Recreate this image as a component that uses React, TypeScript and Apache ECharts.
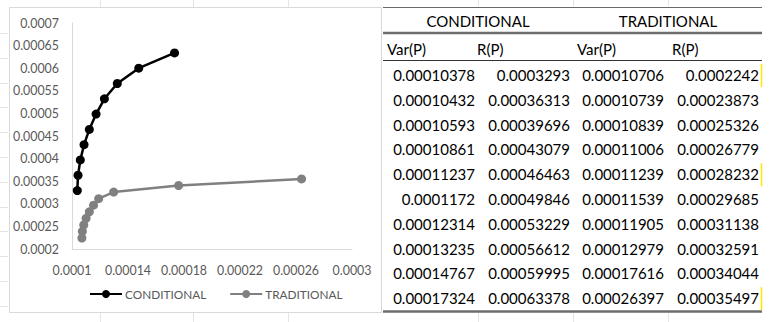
import React, { useEffect, useRef } from "react";
import * as echarts from "echarts";

const seriesNames = ["CONDITIONAL", "TRADITIONAL"];
const condVar = [0.00010378, 0.00010432, 0.00010593, 0.00010861, 0.00011237, 0.0001172, 0.00012314, 0.00013235, 0.00014767, 0.00017324];
const condR = [0.0003293, 0.00036313, 0.00039696, 0.00043079, 0.00046463, 0.00049846, 0.00053229, 0.00056612, 0.00059995, 0.00063378];
const tradVar = [0.00010706, 0.00010739, 0.00010839, 0.00011006, 0.00011239, 0.00011539, 0.00011905, 0.00012979, 0.00017616, 0.00026397];
const tradR = [0.0002242, 0.00023873, 0.00025326, 0.00026779, 0.00028232, 0.00029685, 0.00031138, 0.00032591, 0.00034044, 0.00035497];
const xTickLabels = ["0.0001", "0.00014", "0.00018", "0.00022", "0.00026", "0.0003"];
const yTickLabels = ["0.0002", "0.00025", "0.0003", "0.00035", "0.0004", "0.00045", "0.0005", "0.00055", "0.0006", "0.00065", "0.0007"];
const tableGroupHeaders = ["CONDITIONAL", "TRADITIONAL"];
const tableColHeaders = ["Var(P)", "R(P)", "Var(P)", "R(P)"];
const yellowRows = [0, 4, 9];

const FONT = "Lato, 'Liberation Sans', sans-serif";

export default function App() {
  const ref = useRef<HTMLDivElement>(null);
  useEffect(() => {
    if (!ref.current) return;
    const chart = echarts.init(ref.current, undefined, { renderer: "svg" });

    const xMin = Number(xTickLabels[0]);
    const xMax = Number(xTickLabels[xTickLabels.length - 1]);
    const xStep = (xMax - xMin) / (xTickLabels.length - 1);
    const yMin = Number(yTickLabels[0]);
    const yMax = Number(yTickLabels[yTickLabels.length - 1]);
    const yStep = (yMax - yMin) / (yTickLabels.length - 1);

    const graphics: any[] = [];
    graphics.push({
      type: "rect", z: -10,
      shape: { x: 9.5, y: 7.5, width: 372, height: 305 },
      style: { fill: "none", stroke: "#d9d9d9", lineWidth: 1 },
    });
    [100, 193, 288].forEach((x) => {
      graphics.push({ type: "line", z: -10, shape: { x1: x + 0.5, y1: 0, x2: x + 0.5, y2: 7 }, style: { stroke: "#e4e4e4", lineWidth: 1 } });
      graphics.push({ type: "line", z: -10, shape: { x1: x + 0.5, y1: 313, x2: x + 0.5, y2: 322 }, style: { stroke: "#e4e4e4", lineWidth: 1 } });
    });
    [478, 573, 668].forEach((x) => {
      graphics.push({ type: "line", z: -10, shape: { x1: x + 0.5, y1: 0, x2: x + 0.5, y2: 6 }, style: { stroke: "#e4e4e4", lineWidth: 1 } });
      graphics.push({ type: "line", z: -10, shape: { x1: x + 0.5, y1: 313, x2: x + 0.5, y2: 322 }, style: { stroke: "#e4e4e4", lineWidth: 1 } });
    });
    for (let i = 0; i < 12; i++) {
      const y = Math.round(33 + i * 24.8) + 0.5;
      graphics.push({ type: "line", z: -10, shape: { x1: 0, y1: y, x2: 8, y2: y }, style: { stroke: "#e4e4e4", lineWidth: 1 } });
    }

    const tL = 383, tR = 762;
    graphics.push({ type: "line", shape: { x1: tL, y1: 7.5, x2: tR, y2: 7.5 }, style: { stroke: "#6a6a6a", lineWidth: 1 } });
    graphics.push({ type: "line", shape: { x1: tL, y1: 33, x2: tR, y2: 33 }, style: { stroke: "#6d6d6d", lineWidth: 2.5 } });
    graphics.push({ type: "line", shape: { x1: tL, y1: 60.5, x2: tR, y2: 60.5 }, style: { stroke: "#333333", lineWidth: 1 } });
    graphics.push({ type: "line", shape: { x1: tL, y1: 311.5, x2: tR, y2: 311.5 }, style: { stroke: "#6d6d6d", lineWidth: 2.5 } });

    const groupX = [478, 668];
    tableGroupHeaders.forEach((t, i) => {
      graphics.push({ type: "text", x: groupX[i], y: 21, style: { text: t, fill: "#000", fontSize: 15, fontFamily: FONT, align: "center", verticalAlign: "middle" } });
    });
    const colLeft = [387, 477, 577, 672];
    tableColHeaders.forEach((t, i) => {
      graphics.push({ type: "text", x: colLeft[i], y: 49, style: { text: t, fill: "#000", fontSize: 15, fontFamily: FONT, align: "left", verticalAlign: "middle" } });
    });
    const colRight = [475, 570, 664, 759];
    const cols = [condVar, condR, tradVar, tradR];
    cols.forEach((arr, c) => {
      arr.forEach((v, r) => {
        graphics.push({
          type: "text", x: colRight[c], y: 75 + r * 24.8,
          style: { text: String(v), fill: "#000", fontSize: 15, fontFamily: FONT, align: "right", verticalAlign: "middle" },
        });
      });
    });
    yellowRows.forEach((r) => {
      const yc = 75 + r * 24.8;
      graphics.push({ type: "line", shape: { x1: 761.5, y1: yc - 11, x2: 761.5, y2: yc + 12 }, style: { stroke: "#ffe600", lineWidth: 1.5 } });
    });

    chart.setOption({
      animation: false,
      backgroundColor: "#ffffff",
      grid: { left: 72, right: 419, top: 23, bottom: 73, containLabel: false, outerBoundsMode: "none" },
      xAxis: {
        type: "value",
        min: xMin, max: xMax, interval: xStep / 2,
        axisLine: { show: true, lineStyle: { color: "#d9d9d9", width: 1 } },
        axisTick: { show: false },
        splitLine: { show: false },
        axisLabel: {
          color: "#595959", fontSize: 12.4, fontFamily: FONT, margin: 15,
          formatter: (v: number) => {
            const k = Math.round((v - xMin) / (xStep / 2));
            return k % 2 === 0 ? xTickLabels[k / 2] ?? "" : "";
          },
        },
      },
      yAxis: {
        type: "value",
        min: yMin, max: yMax, interval: yStep,
        axisLine: { show: true, lineStyle: { color: "#d9d9d9", width: 1 } },
        axisTick: { show: false },
        splitLine: { show: false },
        axisLabel: {
          color: "#595959", fontSize: 12.4, fontFamily: FONT, margin: 13,
          formatter: (v: number) => yTickLabels[Math.round((v - yMin) / yStep)] ?? "",
        },
      },
      legend: {
        left: 89, top: 288, padding: 0,
        itemWidth: 32, itemHeight: 10, itemGap: 23,
        textStyle: { color: "#595959", fontSize: 11.8, fontFamily: FONT, padding: [0, 0, 0, -2] },
        data: seriesNames,
      },
      series: [
        {
          name: seriesNames[0], type: "line",
          data: condVar.map((x, i) => [x, condR[i]]),
          symbol: "circle", symbolSize: 9,
          lineStyle: { color: "#000000", width: 2.5 },
          itemStyle: { color: "#000000" },
        },
        {
          name: seriesNames[1], type: "line",
          data: tradVar.map((x, i) => [x, tradR[i]]),
          symbol: "circle", symbolSize: 9,
          lineStyle: { color: "#808080", width: 2.5 },
          itemStyle: { color: "#808080" },
        },
      ],
      graphic: graphics,
    });
    return () => chart.dispose();
  }, []);
  return <div ref={ref} style={{ position: "fixed", left: 0, top: 0, width: 771, height: 322 }} />;
}
